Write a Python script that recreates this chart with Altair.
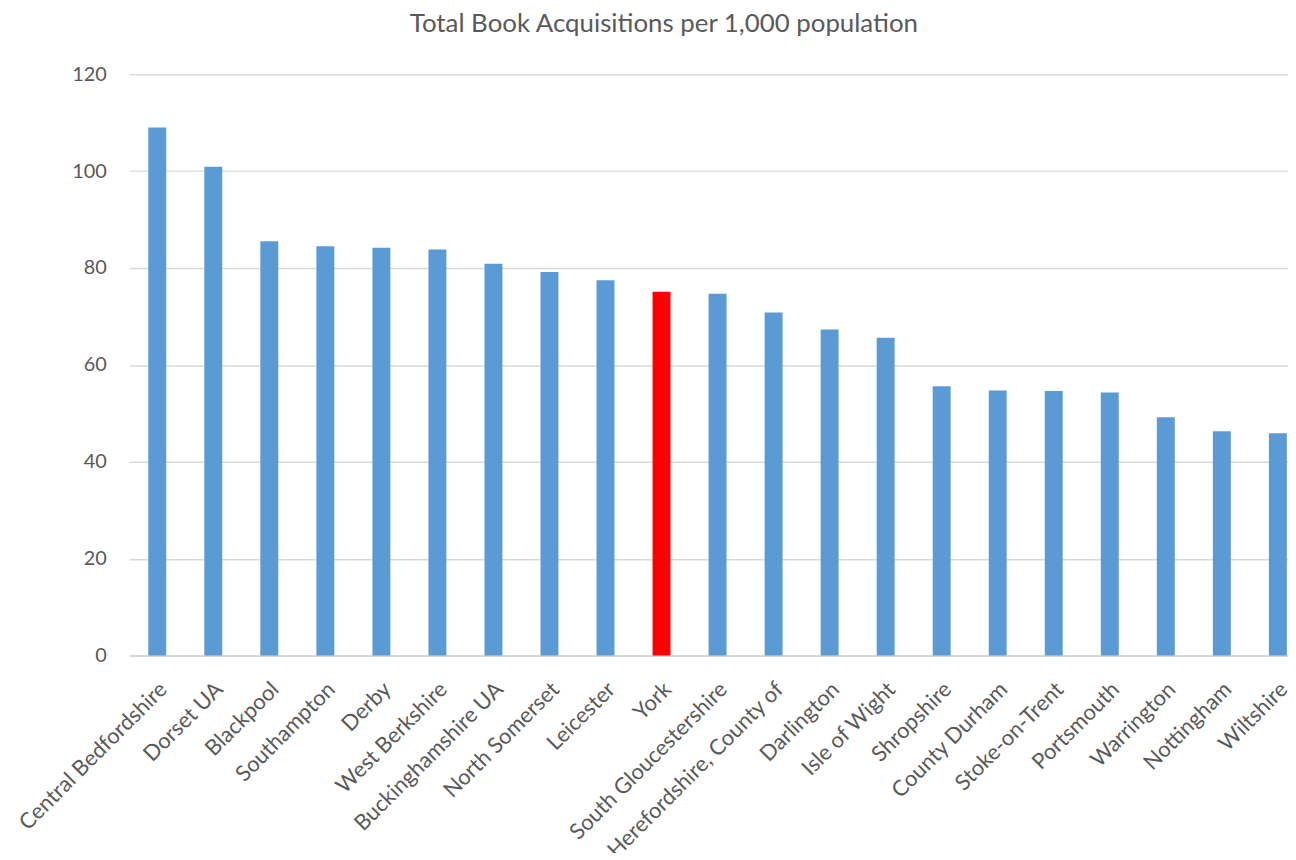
import altair as alt
import pandas as pd

authorities = [
    "Central Bedfordshire", "Dorset UA", "Blackpool", "Southampton", "Derby",
    "West Berkshire", "Buckinghamshire UA", "North Somerset", "Leicester", "York",
    "South Gloucestershire", "Herefordshire, County of", "Darlington", "Isle of Wight",
    "Shropshire", "County Durham", "Stoke-on-Trent", "Portsmouth", "Warrington",
    "Nottingham", "Wiltshire",
]
acquisitions = [
    109.0, 100.9, 85.5, 84.5, 84.2,
    83.8, 80.9, 79.2, 77.5, 75.1,
    74.7, 70.8, 67.3, 65.6,
    55.6, 54.7, 54.6, 54.3, 49.2,
    46.3, 45.9,
]
highlight = "York"
y_ticks = [0, 20, 40, 60, 80, 100, 120]

df = pd.DataFrame({"Authority": authorities, "Value": acquisitions})

FONT = "Lato"
GREY = "#595959"

chart = (
    alt.Chart(df)
    .mark_bar()
    .encode(
        x=alt.X(
            "Authority:N",
            sort=None,
            title=None,
            scale=alt.Scale(range=[0, 1184], paddingInner=0.68, paddingOuter=0.34),
            axis=alt.Axis(
                labelAngle=-45,
                labelAlign="right",
                labelBaseline="top",
                labelPadding=23,
                labelOffset=-1,
                labelFont=FONT,
                labelFontSize=22,
                labelColor=GREY,
                labelOverlap=False,
                labelLimit=400,
                ticks=False,
                tickSize=0,
                domainColor="#d9d9d9",
                domainWidth=2,
                grid=False,
            ),
        ),
        y=alt.Y(
            "Value:Q",
            title=None,
            scale=alt.Scale(domain=[0, 120], nice=False),
            axis=alt.Axis(
                values=y_ticks,
                labelFont=FONT,
                labelFontSize=20,
                labelColor=GREY,
                labelPadding=23,
                ticks=False,
                tickSize=0,
                domain=False,
                gridColor="#d9d9d9",
                gridWidth=1.5,
            ),
        ),
        color=alt.condition(
            alt.datum.Authority == highlight,
            alt.value("#ff0000"),
            alt.value("#5b9bd5"),
        ),
    )
    .properties(
        width=1166,
        height=585,
        title=alt.TitleParams(
            "Total Book Acquisitions per 1,000 population",
            font=FONT,
            fontSize=26,
            fontWeight="normal",
            color=GREY,
            anchor="middle",
            dx=-45,
            offset=27,
        ),
        autosize=alt.AutoSizeParams(type="none"),
        padding={"left": 122, "top": 64, "right": 0, "bottom": 196},
    )
    .configure_view(stroke=None)
)

chart.save("out.html", embed_options={"renderer": "svg", "actions": False})
